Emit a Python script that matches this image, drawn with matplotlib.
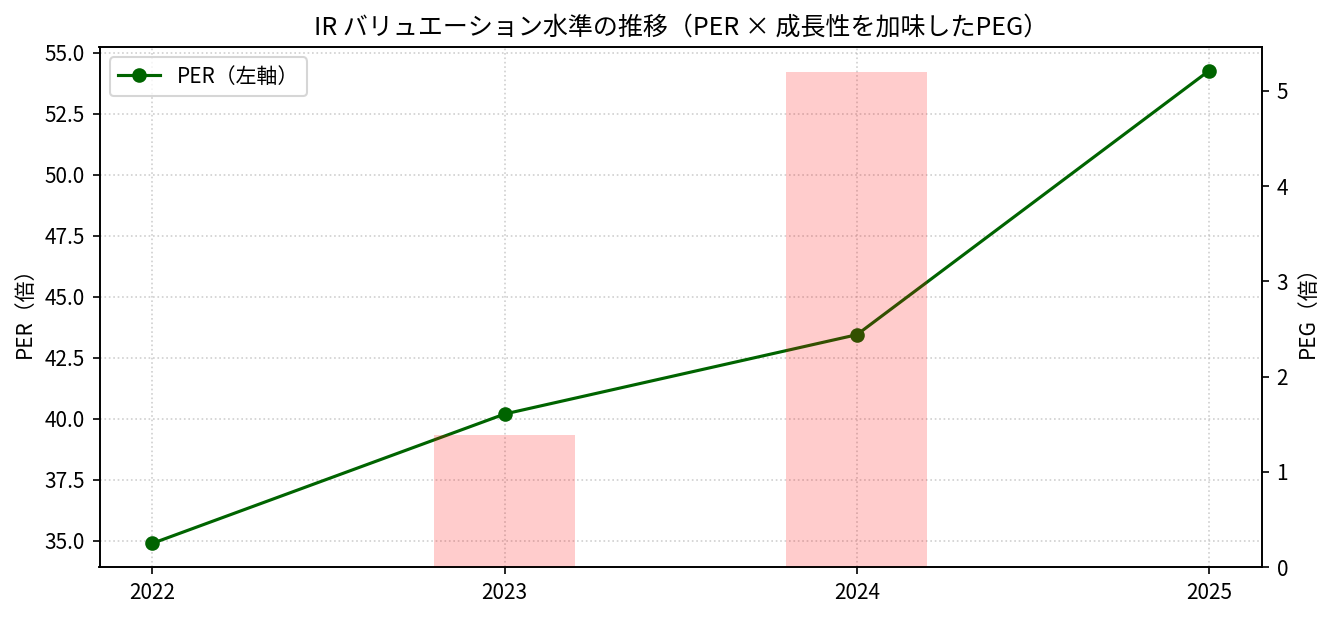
import matplotlib
matplotlib.use("Agg")
import matplotlib.pyplot as plt
import numpy as np

plt.rcParams['font.family'] = ['Noto Sans CJK JP', 'DejaVu Sans']

years = ["2022", "2023", "2024", "2025"]
per = [34.9, 40.2, 43.45, 54.27]
peg = [np.nan, 1.39, 5.2, np.nan]

fig, ax1 = plt.subplots(figsize=(1330/150, 617/150), dpi=150)
fig.subplots_adjust(left=99.5/1330, right=1262/1330, top=1-47/617, bottom=1-567/617)

x = np.arange(len(years))
ax1.plot(x, per, color='darkgreen', marker='o', label='PER（左軸）')
ax1.set_ylabel('PER（倍）')
ax1.set_xticks(x)
ax1.set_xticklabels(years)
ax1.grid(True, linestyle=':', alpha=0.6)
ax1.legend(loc='upper left')

ax2 = ax1.twinx()
ax2.bar(x, peg, width=0.4, color='red', alpha=0.2, label='PEG（右軸）')
ax2.set_ylabel('PEG（倍）')
ax2.set_ylim(0, 5.2 * 1.05)

ax1.set_title('IR バリュエーション水準の推移（PER × 成長性を加味したPEG）', fontsize=12)

fig.savefig('out.png', dpi=150)
